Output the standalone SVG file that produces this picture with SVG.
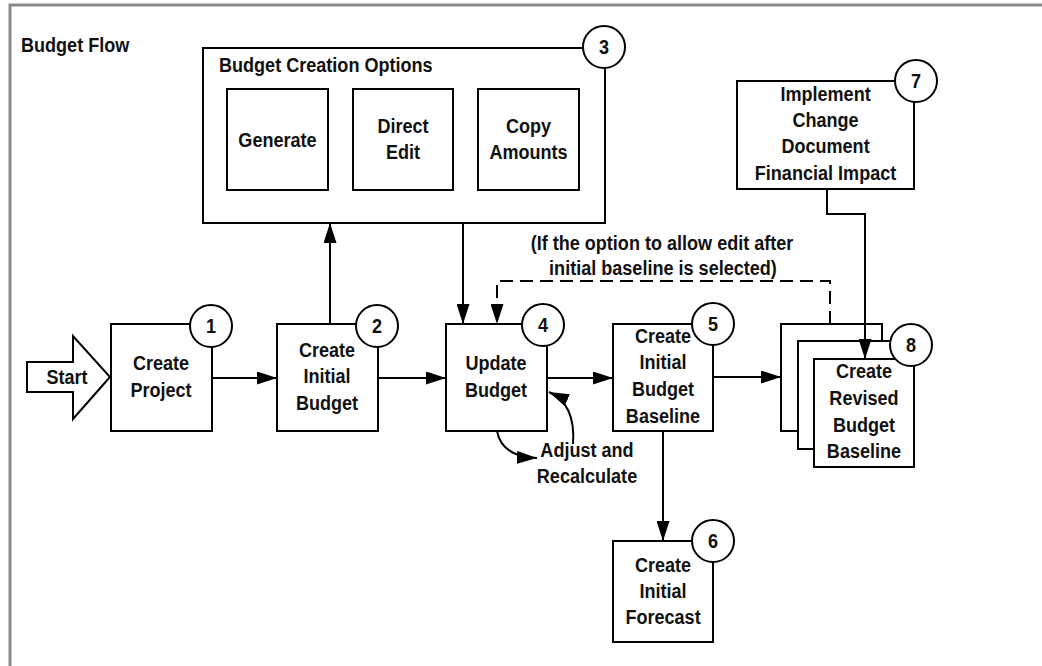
<svg xmlns="http://www.w3.org/2000/svg" width="1042" height="666" viewBox="0 0 1042 666">
  <defs>
    <marker id="arrow" markerUnits="userSpaceOnUse" markerWidth="20" markerHeight="13" refX="20" refY="6.5" orient="auto">
      <path d="M0,0 L20,6.5 L0,13 Z" fill="#000"/>
    </marker>
    <style>
      text { font-family: "Liberation Sans", Arial, sans-serif; font-weight: bold; font-size: 21px; fill: #111;
             transform-box: fill-box; transform-origin: 50% 50%; transform: scaleX(0.86); }
      .l { transform-origin: 0 50%; }
      .c { text-anchor: middle; }
      .box { fill: #fff; stroke: #000; stroke-width: 2; }
      .num { fill: #fff; stroke: #000; stroke-width: 2; }
      .wire { fill: none; stroke: #000; stroke-width: 2; }
      .dash { stroke-dasharray: 13 7; }
      .frame { fill: none; stroke: #8a8a8a; stroke-width: 3; }
    </style>
  </defs>

  <rect width="1042" height="666" fill="#fff"/>
  <path class="frame" d="M10,666 V5 H1042"/>
  <text class="l" x="21" y="52">Budget Flow</text>

  <!-- start -->
  <g id="start">
    <path class="box" d="M27,362 H73 V336 L110,377 L73,419 V392 H27 Z"/>
    <text class="c" x="67" y="384">Start</text>
  </g>

  <!-- 1 -->
  <g id="n1">
    <rect class="box" x="111" y="324" width="101" height="107"/>
    <circle class="num" cx="211" cy="326" r="21"/>
    <text class="c" x="211" y="333">1</text>
    <text class="c" x="161" y="370">Create</text>
    <text class="c" x="161" y="397">Project</text>
  </g>

  <!-- 2 -->
  <g id="n2">
    <rect class="box" x="277" y="324" width="101" height="107"/>
    <circle class="num" cx="377" cy="326" r="21"/>
    <text class="c" x="377" y="333">2</text>
    <text class="c" x="327" y="357">Create</text>
    <text class="c" x="327" y="383">Initial</text>
    <text class="c" x="327" y="410">Budget</text>
  </g>

  <!-- 3 -->
  <g id="n3">
    <rect class="box" x="203" y="48" width="402" height="175"/>
    <circle class="num" cx="604" cy="47" r="21"/>
    <text class="c" x="604" y="54">3</text>
    <text class="l" x="219" y="72">Budget Creation Options</text>
    <rect class="box" x="227" y="89" width="101" height="101"/>
    <text class="c" x="277.5" y="147">Generate</text>
    <rect class="box" x="353" y="89" width="100" height="101"/>
    <text class="c" x="403" y="133">Direct</text>
    <text class="c" x="403" y="159">Edit</text>
    <rect class="box" x="478" y="89" width="101" height="101"/>
    <text class="c" x="528.5" y="133">Copy</text>
    <text class="c" x="528.5" y="159">Amounts</text>
  </g>

  <!-- 4 -->
  <g id="n4">
    <rect class="box" x="446" y="324" width="101" height="107"/>
    <circle class="num" cx="543" cy="325" r="21"/>
    <text class="c" x="543" y="332">4</text>
    <text class="c" x="496" y="370">Update</text>
    <text class="c" x="496" y="397">Budget</text>
  </g>

  <text class="c" x="587" y="457">Adjust and</text>
  <text class="c" x="587" y="483">Recalculate</text>

  <!-- 5 -->
  <g id="n5">
    <rect class="box" x="613" y="324" width="100" height="107"/>
    <circle class="num" cx="713" cy="324" r="21"/>
    <text class="c" x="713" y="331">5</text>
    <text class="c" x="663" y="343">Create</text>
    <text class="c" x="663" y="369">Initial</text>
    <text class="c" x="663" y="396">Budget</text>
    <text class="c" x="663" y="423">Baseline</text>
  </g>

  <!-- 6 -->
  <g id="n6">
    <rect class="box" x="613" y="541" width="100" height="101"/>
    <circle class="num" cx="713" cy="541" r="21"/>
    <text class="c" x="713" y="548">6</text>
    <text class="c" x="663" y="572">Create</text>
    <text class="c" x="663" y="598">Initial</text>
    <text class="c" x="663" y="624">Forecast</text>
  </g>

  <!-- 7 -->
  <g id="n7">
    <rect class="box" x="737" y="81" width="177" height="108"/>
    <circle class="num" cx="916" cy="81" r="21"/>
    <text class="c" x="916" y="88">7</text>
    <text class="c" x="825.5" y="101">Implement</text>
    <text class="c" x="825.5" y="127">Change</text>
    <text class="c" x="825.5" y="153">Document</text>
    <text class="c" x="825.5" y="180">Financial Impact</text>
  </g>

  <!-- 8 -->
  <g id="n8">
    <rect class="box" x="781" y="324" width="101" height="107"/>
    <rect class="box" x="798" y="341" width="100" height="108"/>
    <rect class="box" x="814" y="359" width="100" height="108"/>
    <circle class="num" cx="911" cy="345" r="21"/>
    <text class="c" x="911" y="352">8</text>
    <text class="c" x="864" y="378">Create</text>
    <text class="c" x="864" y="405">Revised</text>
    <text class="c" x="864" y="432">Budget</text>
    <text class="c" x="864" y="458">Baseline</text>
  </g>

  <!-- note on the dashed loop -->
  <text class="c" x="662" y="250">(If the option to allow edit after</text>
  <text class="c" x="663" y="275">initial baseline is selected)</text>

  <!-- connectors -->
  <g id="connectors">
    <path class="wire" d="M212,378 H277" marker-end="url(#arrow)"/>
    <path class="wire" d="M330,324 V223" marker-end="url(#arrow)"/>
    <path class="wire" d="M378,378 H446" marker-end="url(#arrow)"/>
    <path class="wire" d="M463,223 V324" marker-end="url(#arrow)"/>
    <path class="wire" d="M547,378 H613" marker-end="url(#arrow)"/>
    <path class="wire" d="M713,377 H781" marker-end="url(#arrow)"/>
    <path class="wire" d="M663,431 V541" marker-end="url(#arrow)"/>
    <path class="wire" d="M827,189 V214 H865 V359" marker-end="url(#arrow)"/>
    <path class="wire dash" d="M830,324 V281 H497 V324" marker-end="url(#arrow)"/>
    <path class="wire" d="M497,431 Q502,457 537,458" marker-end="url(#arrow)"/>
    <path class="wire" d="M573,444 Q576,404 549,392" marker-end="url(#arrow)"/>
  </g>
</svg>
